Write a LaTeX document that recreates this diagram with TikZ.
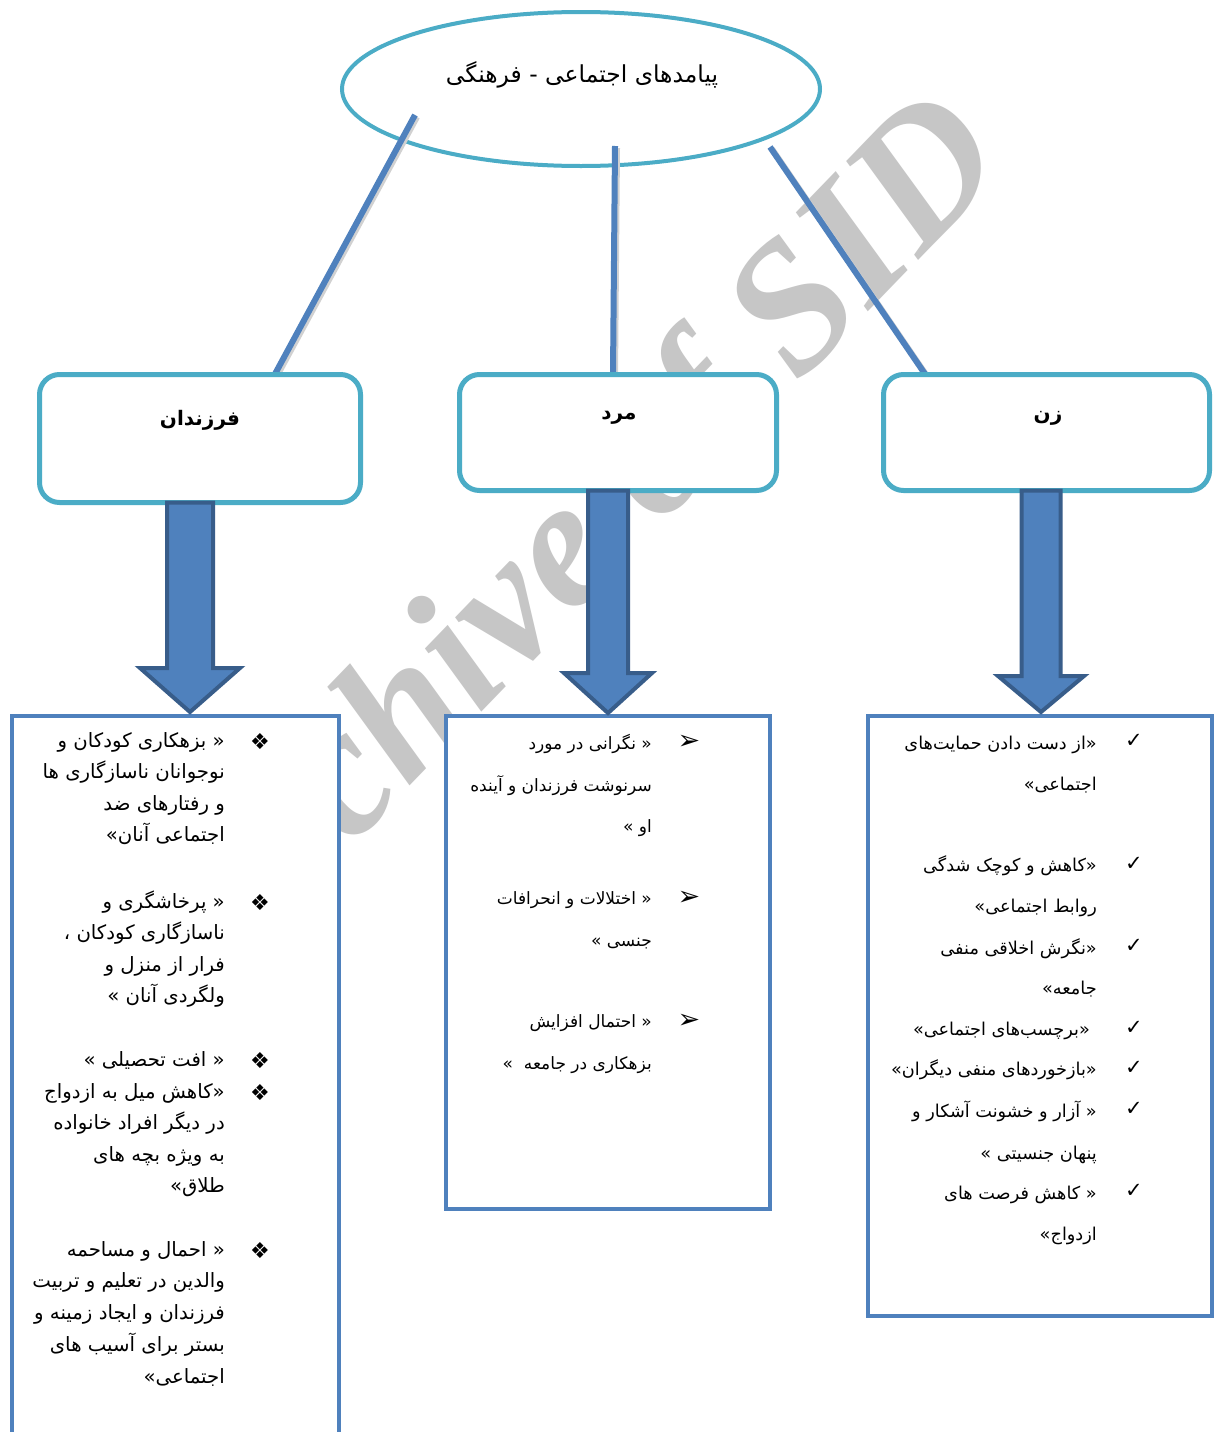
\documentclass[tikz,border=0pt]{standalone}
\usepackage{fontspec}
\usetikzlibrary{shapes.geometric,calc}
\newfontfamily\fa[Script=Arabic]{DejaVu Sans}
\newfontfamily\symf{DejaVu Sans}
\newfontfamily\wmf{Liberation Serif}
\TeXXeTstate=1
\newcommand\rl[1]{\beginR #1\endR}
\definecolor{teal1}{RGB}{75,172,198}
\definecolor{blue1}{RGB}{79,129,189}
\definecolor{dblue}{RGB}{56,93,138}
\definecolor{wmgray}{RGB}{198,198,198}
\newcommand\blockarrow[5]{%
  \draw[barrow] let \p1=(#1), \p2=(#2) in
   ({\x2-#3},\y1) -- ({\x2-#3},{\y2+#5}) -- ({\x2-#4},{\y2+#5}) -- (\x2,\y2)
   -- ({\x2+#4},{\y2+#5}) -- ({\x2+#3},{\y2+#5}) -- ({\x2+#3},\y1) -- cycle;}
\begin{document}
\begin{tikzpicture}[x=1pt,y=-1pt,
  catbox/.style={draw=teal1, line width=5pt, rounded corners=20pt, fill=white, inner sep=0pt, outer sep=0pt},
  listbox/.style={draw=blue1, line width=4pt, fill=white, inner sep=0pt, outer sep=0pt},
  link/.style={draw=blue1, line width=6pt},
  linkshadow/.style={draw=black!18, line width=6pt, transform canvas={xshift=2pt,yshift=-2pt}},
  barrow/.style={fill=blue1, draw=dblue, line width=4pt, line join=miter},
  wmk/.style={rotate=46, text=wmgray, font=\wmf\bfseries\itshape\fontsize{184}{184}\selectfont, inner sep=0pt, anchor=base west},
  lineL/.style={font=\fa\fontsize{19.7}{20}\selectfont, inner sep=0pt, anchor=east, text height=12pt, text depth=2pt},
  lineM/.style={font=\fa\fontsize{17}{17}\selectfont, inner sep=0pt, anchor=east, text height=11pt, text depth=2pt},
  lineR/.style={font=\fa\fontsize{17.7}{18}\selectfont, inner sep=0pt, anchor=east, text height=11pt, text depth=2pt},
  bul/.style={font=\symf\fontsize{22}{22}\selectfont, inner sep=0pt},
  lab/.style={font=\fa\bfseries\fontsize{20}{20}\selectfont, inner sep=0pt}]
\useasboundingbox (0,0) rectangle (1214,1432);
\fill[white] (0,0) rectangle (1214,1432);
% watermark (the letters not hidden by the boxes), laid along a 46 degree baseline
\coordinate (wm0) at (350.9,847.6);
\foreach \ch/\d [count=\i] in {c/0, h/81.7, i/184, v/235.2, e/316.8, o/444.5, f/536.5, S/643.8, I/746.1, D/817.7}
  {\node[wmk, name=wm\i] at ($(wm0)+({\d*0.6947},{-\d*0.7193})$) {\ch};}
% top ellipse
\node[ellipse, draw=teal1, line width=4pt, minimum width=478pt, minimum height=154pt, inner sep=0pt] (top) at (581,89) {};
\node[font=\fa\fontsize{23.4}{24}\selectfont, inner sep=0pt] (title) at (582,75) {\rl{پیامدهای اجتماعی - فرهنگی}};
% connector ends
\coordinate (c1a) at (415,115); \coordinate (c1b) at (275,374);
\coordinate (c2a) at (615,146); \coordinate (c2b) at (613,374);
\coordinate (c3a) at (770,147); \coordinate (c3b) at (925,374);
\path[linkshadow] (c1a) -- (c1b) (c2a) -- (c2b) (c3a) -- (c3b);
\draw[link] (c1a) -- (c1b);
\draw[link] (c2a) -- (c2b);
\draw[link] (c3a) -- (c3b);
% category boxes
\node[catbox, minimum width=321pt, minimum height=128pt] (b1) at (200,438.5) {};
\node[catbox, minimum width=317pt, minimum height=116pt] (b2) at (618,432.5) {};
\node[catbox, minimum width=326pt, minimum height=116pt] (b3) at (1046.5,432.5) {};
\node[lab] (b1t) at (200,420) {\rl{فرزندان}};
\node[lab] (b2t) at (619,418) {\rl{مرد}};
\node[lab] (b3t) at (1048,418) {\rl{زن}};
% list boxes
\node[listbox, minimum width=327pt, minimum height=740pt, anchor=north west] (L1) at (12,715.5) {};
\node[listbox, minimum width=324.5pt, minimum height=493.5pt, anchor=north west] (L2) at (445.5,715.5) {};
\node[listbox, minimum width=344pt, minimum height=600.5pt, anchor=north west] (L3) at (867.5,715.5) {};
% block arrows
\coordinate (a1e) at (190,712);
\coordinate (a2e) at (608,713);
\coordinate (a3e) at (1041,712);
\blockarrow{b1.south}{a1e}{23}{50}{44}
\blockarrow{b2.south}{a2e}{20}{44}{40}
\blockarrow{b3.south}{a3e}{19.5}{43}{36}
% left list
\foreach \yy/\txt [count=\i] in {742/{« بزهکاری کودکان و}, 773/{نوجوانان ناسازگاری ها}, 805/{و رفتارهای ضد}, 836/{اجتماعی آنان»},
  903/{« پرخاشگری و}, 934/{ناسازگاری کودکان ،}, 966/{فرار از منزل و}, 997/{ولگردی آنان »},
  1061/{« افت تحصیلی »}, 1093/{«کاهش میل به ازدواج}, 1124/{در دیگر افراد خانواده}, 1156/{به ویژه بچه های}, 1187/{طلاق»},
  1251/{« احمال و مساحمه}, 1282/{والدین در تعلیم و تربیت}, 1314/{فرزندان و ایجاد زمینه و}, 1346/{بستر برای آسیب های}, 1378/{اجتماعی»}}
  {\node[lineL, name=tl\i] at (225,\yy) {\rl{\txt}};}
\foreach \yy [count=\i] in {742,903,1061,1093,1251}
  {\node[bul, name=bl\i] at (260,\yy) {❖};}
% middle list
\foreach \yy/\txt [count=\i] in {745/{« نگرانی در مورد}, 787/{سرنوشت فرزندان و آینده}, 828/{او »},
  900/{« اختلالات و انحرافات}, 942/{جنسی »},
  1023/{« احتمال افزایش}, 1065/{بزهکاری در جامعه\ \ »}}
  {\node[lineM, name=tm\i] at (652,\yy) {\rl{\txt}};}
\foreach \yy [count=\i] in {742,898,1021}
  {\node[bul, font=\symf\fontsize{27}{27}\selectfont, name=bm\i] at (689,\yy) {➢};}
% right list
\foreach \xx/\yy/\txt [count=\i] in {1097/745/{«از دست دادن حمایت^^^^200cهای}, 1097/786/{اجتماعی»},
  1097/867/{«کاهش و کوچک شدگی}, 1097/908/{روابط اجتماعی»},
  1097/950/{«نگرش اخلاقی منفی}, 1097/990/{جامعه»},
  1090/1031/{«برچسب^^^^200cهای اجتماعی»}, 1097/1071/{«بازخوردهای منفی دیگران»},
  1097/1113/{« آزار و خشونت آشکار و}, 1097/1155/{پنهان جنسیتی »},
  1097/1195/{« کاهش فرصت های}, 1097/1236/{ازدواج»}}
  {\node[lineR, name=tr\i] at (\xx,\yy) {\rl{\txt}};}
\foreach \yy [count=\i] in {741,864,946,1028,1068,1109,1191}
  {\node[bul, font=\symf\fontsize{21}{21}\selectfont, name=br\i] at (1134,\yy) {✓};}
\end{tikzpicture}
\end{document}
